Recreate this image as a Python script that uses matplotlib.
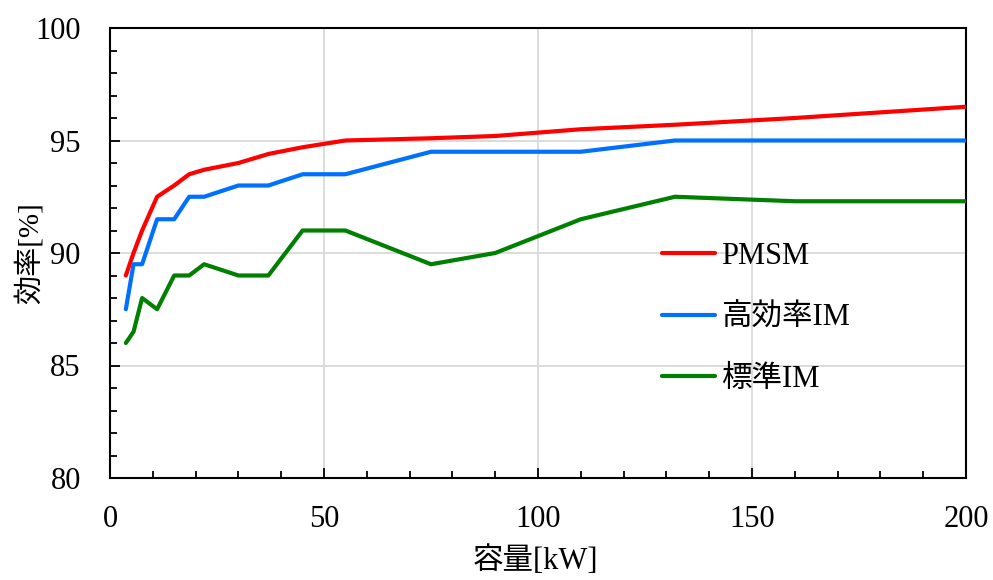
import matplotlib
matplotlib.use("Agg")
import matplotlib.pyplot as plt
from matplotlib.ticker import MultipleLocator

plt.rcParams['font.family'] = ['Liberation Serif', 'Noto Sans CJK JP', 'DejaVu Sans']

capacity_kw = [3.7, 5.5, 7.5, 11, 15, 18.5, 22, 30, 37, 45, 55, 75, 90, 110, 132, 160, 200]
pmsm = [89.0, 90.0, 91.0, 92.5, 93.0, 93.5, 93.7, 94.0, 94.4, 94.7, 95.0, 95.1, 95.2, 95.5, 95.7, 96.0, 96.5]
high_eff_im = [87.5, 89.5, 89.5, 91.5, 91.5, 92.5, 92.5, 93.0, 93.0, 93.5, 93.5, 94.5, 94.5, 94.5, 95.0, 95.0, 95.0]
std_im = [86.0, 86.5, 88.0, 87.5, 89.0, 89.0, 89.5, 89.0, 89.0, 91.0, 91.0, 89.5, 90.0, 91.5, 92.5, 92.3, 92.3]

series_labels = ['PMSM', '高効率IM', '標準IM']
series_colors = ['#FF0000', '#0070FF', '#008000']

x_label = '容量[kW]'
y_label = '効率[%]'

W, H = 993, 580
L, R, T, B = 110, 966, 28, 478

fig = plt.figure(figsize=(W/100, H/100), dpi=100)
ax = fig.add_axes([L/W, 1-B/H, (R-L)/W, (B-T)/H])

for vals, lab, col in zip([pmsm, high_eff_im, std_im], series_labels, series_colors):
    ax.plot(capacity_kw, vals, color=col, lw=3.0, label=lab, solid_capstyle='round', zorder=3)

ax.set_xlim(0, 200)
ax.set_ylim(80, 100)
ax.xaxis.set_major_locator(MultipleLocator(50))
ax.xaxis.set_minor_locator(MultipleLocator(10))
ax.yaxis.set_major_locator(MultipleLocator(5))
ax.yaxis.set_minor_locator(MultipleLocator(1))

ax.grid(True, which='major', color='#D9D9D9', lw=1.3, zorder=0)
ax.set_axisbelow(True)

for s in ax.spines.values():
    s.set_linewidth(1.5)
    s.set_color('black')

ax.tick_params(axis='both', which='major', direction='in', length=7, width=1.3, colors='black')
ax.tick_params(axis='both', which='minor', direction='in', length=5, width=1.3, colors='black')
ax.tick_params(axis='y', which='both', right=False)
ax.tick_params(axis='x', which='both', top=False)
ax.tick_params(axis='y', which='major', labelsize=22, pad=21)
ax.tick_params(axis='x', which='major', labelsize=22, pad=19.5)

ax.set_xlabel(x_label, fontsize=22)
ax.set_ylabel(y_label, fontsize=21)
ax.xaxis.set_label_coords(0.5 - 3/(R-L), (B-546)/(B-T))
ax.yaxis.set_label_coords((44-L)/(R-L), 0.5)

leg = ax.legend(loc='upper left', bbox_to_anchor=(662/W, 1-242/H), bbox_transform=fig.transFigure,
                frameon=False, fontsize=22, handlelength=1.75, handletextpad=0.18, labelspacing=1.06,
                borderaxespad=0, borderpad=0)

fig.savefig('out.png', dpi=100)
